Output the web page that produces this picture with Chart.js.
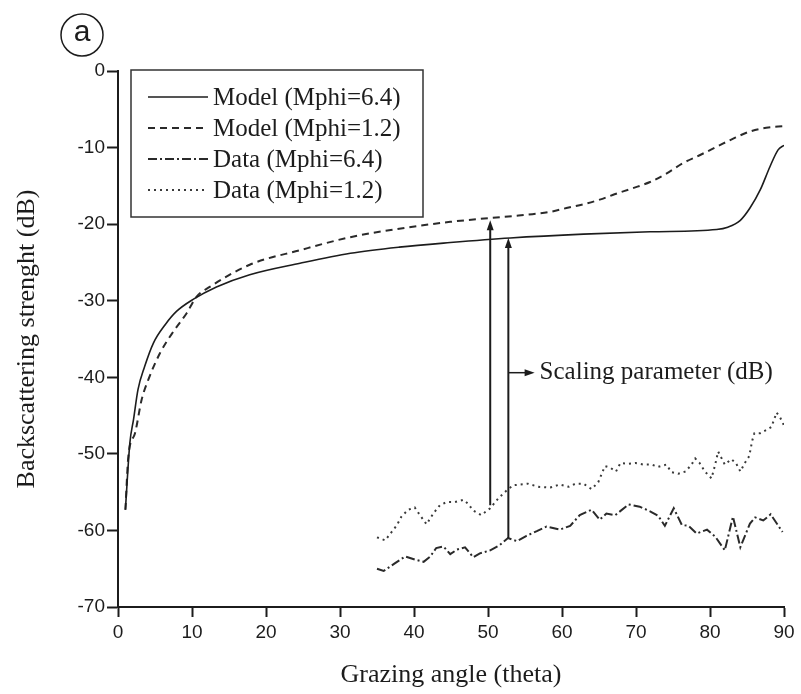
<!DOCTYPE html>
<html>
<head>
<meta charset="utf-8">
<script src="https://cdn.jsdelivr.net/npm/chart.js@4"></script>
<style>
  html, body { margin: 0; padding: 0; background: #fff; }
  #wrap { width: 801px; height: 694px; }
</style>
</head>
<body>
<div id="wrap"><canvas id="chart" width="801" height="694"></canvas></div>
<script>
// Model (Mphi=6.4)
const model64X = [1, 1.6, 2.1, 2.7, 3.6, 4.8, 6.4, 7.9, 10.2, 13.3, 17.8, 24.6, 31.4, 38, 44.9, 53, 62.9, 71.9, 80.9, 82.4, 84.1, 85.4, 86.8, 88.1, 89.2, 90];
const model64Y = [-57.3, -48.6, -45.5, -41.6, -38.6, -35.5, -33.1, -31.4, -29.8, -28.2, -26.6, -25.1, -23.8, -23.0, -22.4, -21.8, -21.3, -21.0, -20.7, -20.4, -19.5, -17.9, -15.5, -12.5, -10.3, -9.7];

// Model (Mphi=1.2)
const model12X = [1, 1.4, 2.3, 3.2, 4.1, 5.7, 7.5, 9.3, 10.6, 12.4, 17.8, 24.6, 31.4, 38, 44.9, 50.3, 53.9, 56, 58.4, 60.6, 62.9, 65.1, 67.1, 69.6, 71.9, 74.1, 76.4, 78.6, 80.9, 83.2, 85.4, 87.6, 90];
const model12Y = [-57.3, -50.3, -47.3, -42.9, -40.3, -36.8, -34.0, -31.6, -29.5, -28.2, -25.3, -23.4, -21.7, -20.6, -19.7, -19.2, -18.9, -18.7, -18.4, -17.9, -17.4, -16.8, -16.1, -15.3, -14.5, -13.4, -12.0, -11.0, -9.9, -8.8, -7.9, -7.4, -7.2];

// Data (Mphi=6.4)
const data64X = [35.0, 35.9, 37.4, 38.8, 40.1, 41.3, 42.2, 43.0, 44.0, 44.9, 45.8, 46.9, 48.0, 48.9, 50.3, 51.6, 52.7, 53.9, 55.2, 56.6, 57.9, 59.7, 61.1, 62.4, 64.0, 65.1, 66.0, 67.2, 69.0, 70.5, 71.9, 73.0, 73.9, 75.1, 76.2, 77.1, 78.2, 79.6, 80.7, 82.0, 83.1, 84.1, 85.4, 86.1, 87.2, 88.2, 89.8];
const data64Y = [-65.0, -65.3, -64.3, -63.4, -63.8, -64.1, -63.4, -62.3, -62.1, -63.1, -62.5, -62.2, -63.5, -63.0, -62.6, -61.9, -61.0, -61.4, -60.7, -60.1, -59.5, -59.9, -59.4, -58.0, -57.3, -58.6, -57.8, -58.0, -56.6, -56.9, -57.5, -58.1, -59.4, -57.1, -59.3, -59.4, -60.4, -59.9, -60.8, -62.6, -58.2, -62.2, -59.1, -58.3, -58.7, -57.9, -60.2];

// Data (Mphi=1.2)
const data12X = [35.0, 36.1, 37.7, 38.3, 39.2, 40.1, 40.8, 41.7, 42.6, 43.5, 44.4, 45.5, 46.7, 47.3, 48.0, 49.1, 50.3, 51.4, 52.5, 53.4, 55.4, 56.8, 58.4, 59.7, 60.9, 61.8, 62.9, 64.0, 64.9, 65.8, 66.5, 67.3, 67.9, 69.0, 69.9, 71.0, 72.1, 73.0, 74.1, 74.8, 75.7, 76.7, 77.5, 78.0, 78.6, 79.3, 80.2, 80.7, 81.1, 82.0, 82.9, 83.5, 84.1, 84.7, 85.3, 85.7, 86.0, 86.8, 87.6, 88.3, 89.0, 89.5, 90];
const data12Y = [-60.9, -61.3, -59.3, -58.2, -57.3, -57.0, -58.0, -59.2, -57.8, -56.7, -56.3, -56.3, -56.0, -56.5, -57.4, -58.0, -57.1, -55.8, -54.8, -54.1, -53.9, -54.3, -54.4, -54.0, -54.3, -53.9, -53.9, -54.6, -53.7, -51.6, -51.8, -52.3, -51.2, -51.3, -51.2, -51.4, -51.4, -51.7, -51.4, -52.4, -52.6, -52.3, -51.4, -50.6, -51.2, -52.3, -53.2, -51.4, -49.7, -51.4, -50.7, -51.2, -52.3, -51.2, -50.3, -48.3, -47.3, -47.3, -46.9, -46.5, -44.6, -45.3, -46.3];

const seriesLabels = ["Model (Mphi=6.4)", "Model (Mphi=1.2)", "Data (Mphi=6.4)", "Data (Mphi=1.2)"];

// scaling-parameter arrows (angle, from dB, to dB)
const arrowX = [50.3, 52.75];
const arrowFrom = [-56.7, -61.0];
const arrowTo = [-19.5, -21.8];
const scalingLabel = "Scaling parameter (dB)";
const scalingY = -39.4;
const scalingArrowEnd = 56.3;

const INK = "#1c1c1c";
const SERIF = "'Liberation Serif', 'Times New Roman', serif";
const SANS = "'Liberation Sans', Arial, sans-serif";

function pts(xs, ys) {
  return xs.map((x, i) => ({ x: x, y: ys[i] }));
}

const styles = [
  { dash: [], width: 1.6, color: INK },
  { dash: [7, 5], width: 2, color: "#2a2a2a" },
  { dash: [9, 3, 2, 3], width: 2, color: "#2a2a2a" },
  { dash: [2, 4], width: 2, color: "#3a3a3a" },
];

function arrowHead(ctx, x, y, dir) {
  // dir: 'up' or 'right'
  ctx.beginPath();
  if (dir === "up") {
    ctx.moveTo(x, y);
    ctx.lineTo(x - 3.5, y + 10);
    ctx.lineTo(x + 3.5, y + 10);
  } else {
    ctx.moveTo(x, y);
    ctx.lineTo(x - 10, y - 3.5);
    ctx.lineTo(x - 10, y + 3.5);
  }
  ctx.closePath();
  ctx.fill();
}

const decorPlugin = {
  id: "decor",
  afterDatasetsDraw(chart) {
    const ctx = chart.ctx;
    const xs = chart.scales.x;
    const ys = chart.scales.y;
    ctx.save();
    ctx.strokeStyle = INK;
    ctx.fillStyle = INK;
    ctx.lineWidth = 2;
    ctx.setLineDash([]);

    // vertical arrows
    arrowX.forEach((ax, i) => {
      const px = xs.getPixelForValue(ax);
      const y0 = ys.getPixelForValue(arrowFrom[i]);
      const y1 = ys.getPixelForValue(arrowTo[i]);
      ctx.beginPath();
      ctx.moveTo(px, y0);
      ctx.lineTo(px, y1 + 8);
      ctx.stroke();
      arrowHead(ctx, px, y1, "up");
    });

    // scaling parameter pointer
    const sy = ys.getPixelForValue(scalingY);
    const sx0 = xs.getPixelForValue(arrowX[1]);
    const sx1 = xs.getPixelForValue(scalingArrowEnd);
    ctx.lineWidth = 1.5;
    ctx.beginPath();
    ctx.moveTo(sx0, sy);
    ctx.lineTo(sx1 - 8, sy);
    ctx.stroke();
    arrowHead(ctx, sx1, sy, "right");
    ctx.font = "25px " + SERIF;
    ctx.textBaseline = "middle";
    ctx.textAlign = "left";
    ctx.fillText(scalingLabel, sx1 + 5, sy);

    // legend box
    const lx = 131, ly = 70, lw = 292, lh = 147;
    ctx.lineWidth = 1.5;
    ctx.strokeStyle = "#333";
    ctx.strokeRect(lx, ly, lw, lh);
    seriesLabels.forEach((lab, i) => {
      const rowY = 97 + i * 31;
      const st = styles[i];
      ctx.strokeStyle = st.color;
      ctx.lineWidth = st.width;
      ctx.setLineDash(st.dash);
      ctx.beginPath();
      ctx.moveTo(148, rowY);
      ctx.lineTo(208, rowY);
      ctx.stroke();
      ctx.setLineDash([]);
      ctx.fillStyle = INK;
      ctx.font = "25px " + SERIF;
      ctx.textBaseline = "middle";
      ctx.fillText(lab, 213, rowY + 1);
    });

    // panel tag
    ctx.lineWidth = 1.5;
    ctx.strokeStyle = INK;
    ctx.beginPath();
    ctx.arc(82, 35, 21, 0, Math.PI * 2);
    ctx.stroke();
    ctx.font = "30px " + SANS;
    ctx.textAlign = "center";
    ctx.textBaseline = "middle";
    ctx.fillText("a", 82, 33);
    ctx.restore();
  },
};

const datasets = [
  { xs: model64X, ys: model64Y, smooth: true },
  { xs: model12X, ys: model12Y, smooth: true },
  { xs: data64X, ys: data64Y, smooth: false },
  { xs: data12X, ys: data12Y, smooth: false },
].map((d, i) => ({
  label: seriesLabels[i],
  data: pts(d.xs, d.ys),
  borderColor: styles[i].color,
  borderWidth: styles[i].width,
  borderDash: styles[i].dash,
  pointRadius: 0,
  fill: false,
  showLine: true,
  cubicInterpolationMode: d.smooth ? "monotone" : "default",
  tension: 0,
}));

new Chart(document.getElementById("chart"), {
  type: "scatter",
  data: { datasets: datasets },
  options: {
    responsive: false,
    animation: false,
    layout: { padding: { left: 0, top: 71, right: 17, bottom: 0 } },
    plugins: {
      legend: { display: false },
      tooltip: { enabled: false },
    },
    scales: {
      x: {
        type: "linear",
        min: 0,
        max: 90,
        afterFit: (s) => { s.height = 87; },
        ticks: { stepSize: 10, color: INK, font: { family: SANS, size: 19 }, padding: 4 },
        grid: { drawOnChartArea: false, tickLength: 10, tickWidth: 2, tickColor: INK },
        border: { color: INK, width: 2 },
        title: { display: true, text: "Grazing angle (theta)", color: INK, font: { family: SERIF, size: 26 }, padding: { top: 4, bottom: 3 } },
      },
      y: {
        min: -70,
        max: 0,
        afterFit: (s) => { s.width = 118; },
        ticks: { stepSize: 10, color: INK, font: { family: SANS, size: 19 }, padding: 2 },
        grid: { drawOnChartArea: false, tickLength: 11, tickWidth: 2, tickColor: INK },
        border: { color: INK, width: 2 },
        title: { display: true, text: "Backscattering strenght (dB)", color: INK, font: { family: SERIF, size: 26 }, padding: { top: 12, bottom: 4 } },
      },
    },
  },
  plugins: [decorPlugin],
});
</script>
</body>
</html>
